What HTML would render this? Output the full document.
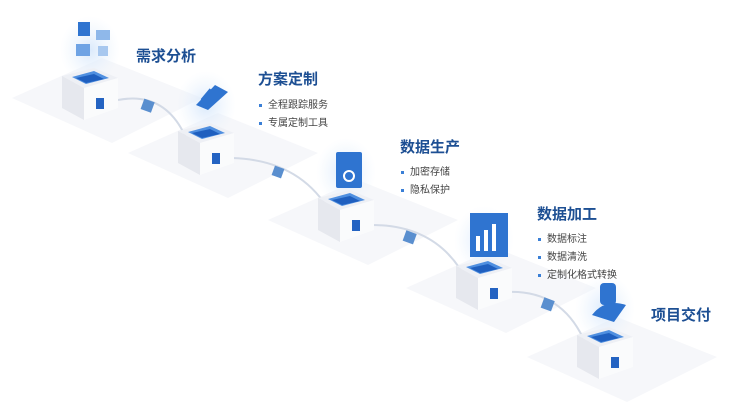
<!DOCTYPE html>
<html><head><meta charset="utf-8"><style>
body{margin:0;width:752px;height:412px;background:#fff;overflow:hidden;position:relative;font-family:"Liberation Sans","Noto Sans CJK SC",sans-serif}
.t{position:absolute;font-size:15px;font-weight:bold;color:#1d4f93}
.b{position:absolute;font-size:10px;color:#444}
.b:before{content:"";display:inline-block;width:3px;height:3px;background:#3a7fd6;margin-right:6px;vertical-align:middle}
svg{position:absolute;left:0;top:0}
</style></head><body>
<svg width="752" height="412" viewBox="0 0 752 412">
<defs>
<radialGradient id="g" cx="50%" cy="50%" r="50%"><stop offset="0" stop-color="#d6e7fb" stop-opacity=".9"/><stop offset="1" stop-color="#eaf3fd" stop-opacity="0"/></radialGradient>
<polygon id="floor" points="-50,30 40,-10 140,30 50,75" fill="#f6f7fa"/>
<g id="cube">
<ellipse cx="28" cy="-18" rx="30" ry="34" fill="url(#g)"/>
<polygon points="0,8 32,0 56,10 22,20" fill="#eef0f5"/>
<polygon points="10,9 32,3 47,10 24,16" fill="#4f8fe0"/>
<polygon points="14,10 32,6 42,11 24,15" fill="#1f5fbf"/>
<polygon points="0,8 22,20 22,52 0,40" fill="#e6e8ee"/>
<polygon points="22,20 56,10 56,40 22,52" fill="#fafbfc"/>
<rect x="34" y="30" width="8" height="11" fill="#2463c2"/>
</g>
</defs>
<use href="#floor" x="62" y="68"/>
<use href="#floor" x="178" y="123"/>
<use href="#floor" x="318" y="190"/>
<use href="#floor" x="456" y="258"/>
<use href="#floor" x="577" y="327"/>
<g fill="none" stroke="#d3dae6" stroke-width="2">
<path d="M118 100 Q170 90 190 148"/>
<path d="M232 158 Q300 160 330 212"/>
<path d="M372 225 Q440 225 468 283"/>
<path d="M508 292 Q560 290 583 338"/>
</g>
<g fill="#5a8fcf"><rect x="142" y="100" width="11" height="11" transform="rotate(20 147 106)"/><rect x="273" y="167" width="10" height="10" transform="rotate(20 278 172)"/><rect x="404" y="232" width="11" height="11" transform="rotate(20 410 238)"/><rect x="542" y="299" width="11" height="11" transform="rotate(20 548 305)"/></g>
<use href="#cube" x="62" y="68"/>
<use href="#cube" x="178" y="123"/>
<use href="#cube" x="318" y="190"/>
<use href="#cube" x="456" y="258"/>
<use href="#cube" x="577" y="327"/>
<g fill="#2f74d0">
<rect x="78" y="22" width="12" height="14"/><rect x="96" y="30" width="14" height="10" fill="#8fb8ea"/><rect x="76" y="44" width="14" height="12" fill="#6fa3e4"/><rect x="98" y="46" width="10" height="10" fill="#a8c8ef"/>
<polygon points="196,105 215,85 228,92 208,110"/><rect x="204" y="90" width="10" height="14" transform="rotate(40 209 97)"/>
<rect x="336" y="152" width="26" height="36" rx="2"/>
<rect x="470" y="213" width="38" height="44" fill="#2f74d0"/><rect x="476" y="236" width="4" height="15" fill="#fff"/><rect x="484" y="230" width="4" height="21" fill="#fff"/><rect x="492" y="224" width="4" height="27" fill="#fff"/>
<rect x="600" y="283" width="16" height="22" rx="4"/><path d="M592 315 Q605 298 626 305 L614 322 Z"/>
</g>
<circle cx="349" cy="176" r="5" fill="none" stroke="#fff" stroke-width="2"/>
</svg>
<div class="t" style="left:136px;top:45px">需求分析</div>
<div class="t" style="left:258px;top:68px">方案定制</div>
<div class="b" style="left:259px;top:96px">全程跟踪服务</div>
<div class="b" style="left:259px;top:114px">专属定制工具</div>
<div class="t" style="left:400px;top:136px">数据生产</div>
<div class="b" style="left:401px;top:163px">加密存储</div>
<div class="b" style="left:401px;top:181px">隐私保护</div>
<div class="t" style="left:537px;top:203px">数据加工</div>
<div class="b" style="left:538px;top:230px">数据标注</div>
<div class="b" style="left:538px;top:248px">数据清洗</div>
<div class="b" style="left:538px;top:266px">定制化格式转换</div>
<div class="t" style="left:651px;top:304px">项目交付</div>
</body></html>
